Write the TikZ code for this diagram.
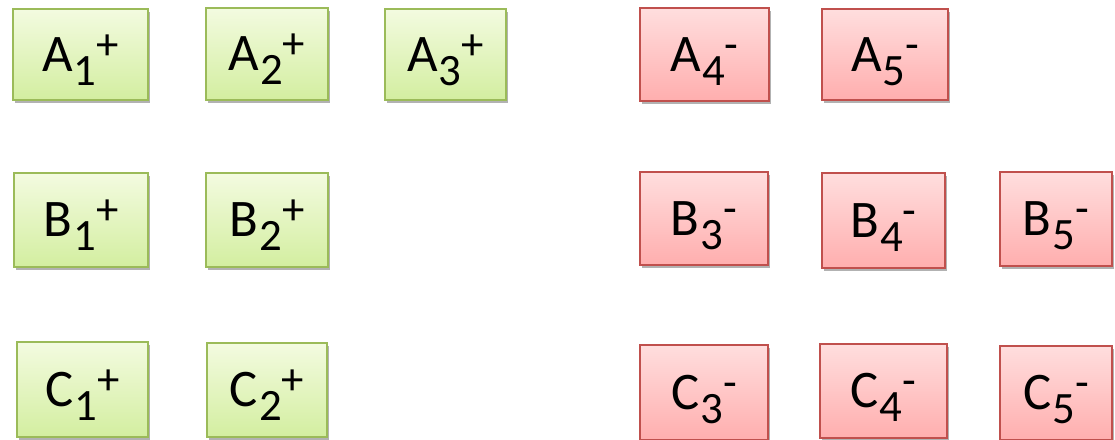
\documentclass[tikz,border=0pt]{standalone}
\usepackage{fontspec}
\setmainfont{Carlito}
\usetikzlibrary{shadows}
\definecolor{gtop}{HTML}{F3FBE0}
\definecolor{gbot}{HTML}{D3EEA0}
\definecolor{gline}{HTML}{9BBB59}
\definecolor{rtop}{HTML}{FFDEDE}
\definecolor{rbot}{HTML}{FFAEAE}
\definecolor{rline}{HTML}{C0504D}
\newcommand{\lbl}[3]{{\fontsize{53}{60}\selectfont #1}\hspace{1bp}\raisebox{-14bp}{\fontsize{45}{45}\selectfont #2}\raisebox{12bp}{\fontsize{45}{45}\selectfont #3}\hspace{7bp}}
\tikzset{
  cellbox/.style={draw, line width=1.6bp, inner sep=0pt, text height=34bp, text depth=0bp,
    drop shadow={shadow xshift=1.5bp, shadow yshift=-3bp, opacity=0.3, fill=black}},
  posbox/.style={cellbox, draw=gline, top color=gtop, bottom color=gbot},
  negbox/.style={cellbox, draw=rline, top color=rtop, bottom color=rbot},
}
\newcommand{\cellat}[7]{% style, name, l, t, r, b, text
  \node[#1, minimum width={(#5-#3)*1bp}, minimum height={(#6-#4)*1bp}] (#2) at ({(#3+#5)/2},{(#4+#6)/2}) {#7};}
\begin{document}
\begin{tikzpicture}[x=1bp,y=-1bp]
\useasboundingbox[fill=white] (0,0) rectangle (1115,440);
\cellat{posbox}{A1}{13}{9}{148}{100}{\lbl{A}{1}{+}}
\cellat{posbox}{A2}{206}{8}{328}{100}{\lbl{A}{2}{+}}
\cellat{posbox}{A3}{385}{9}{506}{100}{\lbl{A}{3}{+}}
\cellat{negbox}{A4}{640}{8}{769}{101}{\lbl{A}{4}{-}}
\cellat{negbox}{A5}{822}{9}{948}{100}{\lbl{A}{5}{-}}
\cellat{posbox}{B1}{14}{173}{148}{267}{\lbl{B}{1}{+}}
\cellat{posbox}{B2}{206}{173}{328}{267}{\lbl{B}{2}{+}}
\cellat{negbox}{B3}{640}{172}{768}{265}{\lbl{B}{3}{-}}
\cellat{negbox}{B4}{822}{173}{945}{268}{\lbl{B}{4}{-}}
\cellat{negbox}{B5}{1000}{172}{1112}{266}{\lbl{B}{5}{-}}
\cellat{posbox}{C1}{17}{342}{148}{437}{\lbl{C}{1}{+}}
\cellat{posbox}{C2}{207}{343}{327}{437}{\lbl{C}{2}{+}}
\cellat{negbox}{C3}{640}{345}{768}{440}{\lbl{C}{3}{-}}
\cellat{negbox}{C4}{820}{344}{947}{438}{\lbl{C}{4}{-}}
\cellat{negbox}{C5}{1000}{346}{1112}{440}{\lbl{C}{5}{-}}
\end{tikzpicture}
\end{document}
